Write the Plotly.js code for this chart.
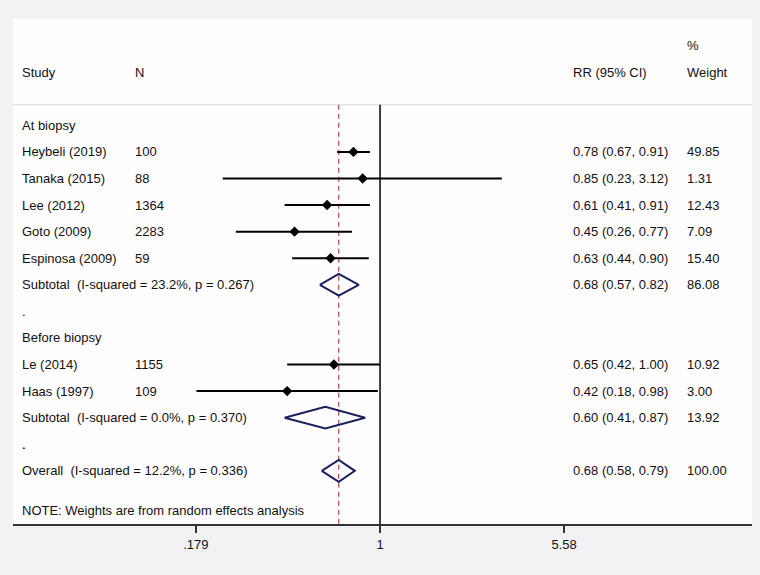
<!DOCTYPE html>
<html>
<head>
<meta charset="utf-8">
<script src="https://cdn.plot.ly/plotly-3.0.1.min.js"></script>
<style>
html,body{margin:0;padding:0;background:#f2f1f3;}
#chart{width:760px;height:575px;}
</style>
</head>
<body>
<div id="chart"></div>
<script>
// ---- data ----
const groupNames = ['At biopsy', 'Before biopsy'];
const studyGroup = [0, 0, 0, 0, 0, 1, 1];
const studies = ['Heybeli (2019)', 'Tanaka (2015)', 'Lee (2012)', 'Goto (2009)', 'Espinosa (2009)', 'Le (2014)', 'Haas (1997)'];
const nVals = [100, 88, 1364, 2283, 59, 1155, 109];
const rr = [0.78, 0.85, 0.61, 0.45, 0.63, 0.65, 0.42];
const ciLo = [0.67, 0.23, 0.41, 0.26, 0.44, 0.42, 0.18];
const ciHi = [0.91, 3.12, 0.91, 0.77, 0.90, 1.00, 0.98];
const weights = ['49.85', '1.31', '12.43', '7.09', '15.40', '10.92', '3.00'];

const subLabels = ['Subtotal\u00a0 (I-squared = 23.2%, p = 0.267)', 'Subtotal\u00a0 (I-squared = 0.0%, p = 0.370)'];
const subRR = [0.68, 0.60];
const subLo = [0.57, 0.41];
const subHi = [0.82, 0.87];
const subWeights = ['86.08', '13.92'];

const overallLabel = 'Overall\u00a0 (I-squared = 12.2%, p = 0.336)';
const overallRR = 0.68, overallLo = 0.58, overallHi = 0.79;
const overallWeight = '100.00';

const noteText = 'NOTE: Weights are from random effects analysis';
const tickVals = [0.179, 1, 5.58];
const tickText = ['.179', '1', '5.58'];

// ---- layout helpers ----
const W = 760, H = 575, ML = 13, MR = 8, MT = 19, MB = 51;
const plotW = W - ML - MR;
const px = p => (p - ML) / plotW; // pixel x -> paper
const colStudy = px(20), colN = px(133), colRR = px(571), colW = px(685);
const fmt = v => v.toFixed(2);
const rrText = (e, l, h) => fmt(e) + ' (' + fmt(l) + ', ' + fmt(h) + ')';

const font = {family: 'Liberation Sans, Arial, sans-serif', size: 13, color: '#111'};
const annotations = [];
function txt(xp, y, text) {
  annotations.push({xref: 'paper', yref: 'y', x: xp, y: y, text: text, showarrow: false,
    xanchor: 'left', yanchor: 'middle', font: font});
}

// header
txt(colStudy, -2, 'Study');
txt(colN, -2, 'N');
txt(colRR, -2, 'RR (95% CI)');
txt(colW, -3, '%');
txt(colW, -2, 'Weight');

const traces = [];
const diamondColor = '#1b1f5e';
function diamond(y, e, l, h) {
  traces.push({x: [l, e, h, e, l], y: [y, y - 0.41, y, y + 0.41, y], mode: 'lines', type: 'scatter',
    line: {color: diamondColor, width: 2}, hoverinfo: 'skip', showlegend: false});
}

const ptX = [], ptY = [];
let row = 0;
for (let g = 0; g < groupNames.length; g++) {
  txt(colStudy, row, groupNames[g]);
  row++;
  for (let i = 0; i < studies.length; i++) {
    if (studyGroup[i] !== g) continue;
    txt(colStudy, row, studies[i]);
    txt(colN, row, String(nVals[i]));
    txt(colRR, row, rrText(rr[i], ciLo[i], ciHi[i]));
    txt(colW, row, weights[i]);
    traces.push({x: [ciLo[i], ciHi[i]], y: [row, row], mode: 'lines', type: 'scatter',
      line: {color: '#000', width: 2}, hoverinfo: 'skip', showlegend: false});
    ptX.push(rr[i]); ptY.push(row);
    row++;
  }
  txt(colStudy, row, subLabels[g]);
  txt(colRR, row, rrText(subRR[g], subLo[g], subHi[g]));
  txt(colW, row, subWeights[g]);
  diamond(row, subRR[g], subLo[g], subHi[g]);
  row++;
  txt(colStudy, row, '.');
  row++;
}
row--; // overall replaces the last "." position
txt(colStudy, row, '.');
row++;
txt(colStudy, row, overallLabel);
txt(colRR, row, rrText(overallRR, overallLo, overallHi));
txt(colW, row, overallWeight);
diamond(row, overallRR, overallLo, overallHi);
const lastRow = row;
txt(colStudy, lastRow + 1.5, noteText);

traces.push({x: ptX, y: ptY, mode: 'markers', type: 'scatter',
  marker: {symbol: 'diamond', size: 8, color: '#000'}, hoverinfo: 'skip', showlegend: false});

const yTop = -0.77, yBot = lastRow + 2;
const shapes = [
  {type: 'line', xref: 'paper', yref: 'y', x0: 0, x1: 1, y0: yTop, y1: yTop, line: {color: '#d8d8d8', width: 1}, layer: 'below'},
  {type: 'line', xref: 'x', yref: 'y', x0: 1, x1: 1, y0: yTop, y1: yBot, line: {color: '#000', width: 1.5}, layer: 'below'},
  {type: 'line', xref: 'x', yref: 'y', x0: overallRR, x1: overallRR, y0: yTop, y1: yBot, line: {color: '#b8443f', width: 1.2, dash: '5px,4px'}, layer: 'below'}
];

const layout = {
  width: W, height: H,
  margin: {l: ML, r: MR, t: MT, b: MB, pad: 0},
  paper_bgcolor: '#f2f1f3',
  plot_bgcolor: '#fffdfd',
  showlegend: false,
  xaxis: {type: 'log', range: [-1.489, 1.509], tickvals: tickVals, ticktext: tickText,
    showgrid: false, zeroline: false, showline: true, linecolor: '#333', linewidth: 2,
    ticks: 'outside', ticklen: 7, tickcolor: '#333', tickwidth: 1.5,
    tickfont: {family: 'Liberation Sans, Arial, sans-serif', size: 13, color: '#111'}, fixedrange: true},
  yaxis: {range: [yBot, -4], showgrid: false, zeroline: false, showline: false, showticklabels: false,
    ticks: '', fixedrange: true},
  annotations: annotations,
  shapes: shapes
};

Plotly.newPlot('chart', traces, layout, {staticPlot: true, displayModeBar: false});
</script>
</body>
</html>
